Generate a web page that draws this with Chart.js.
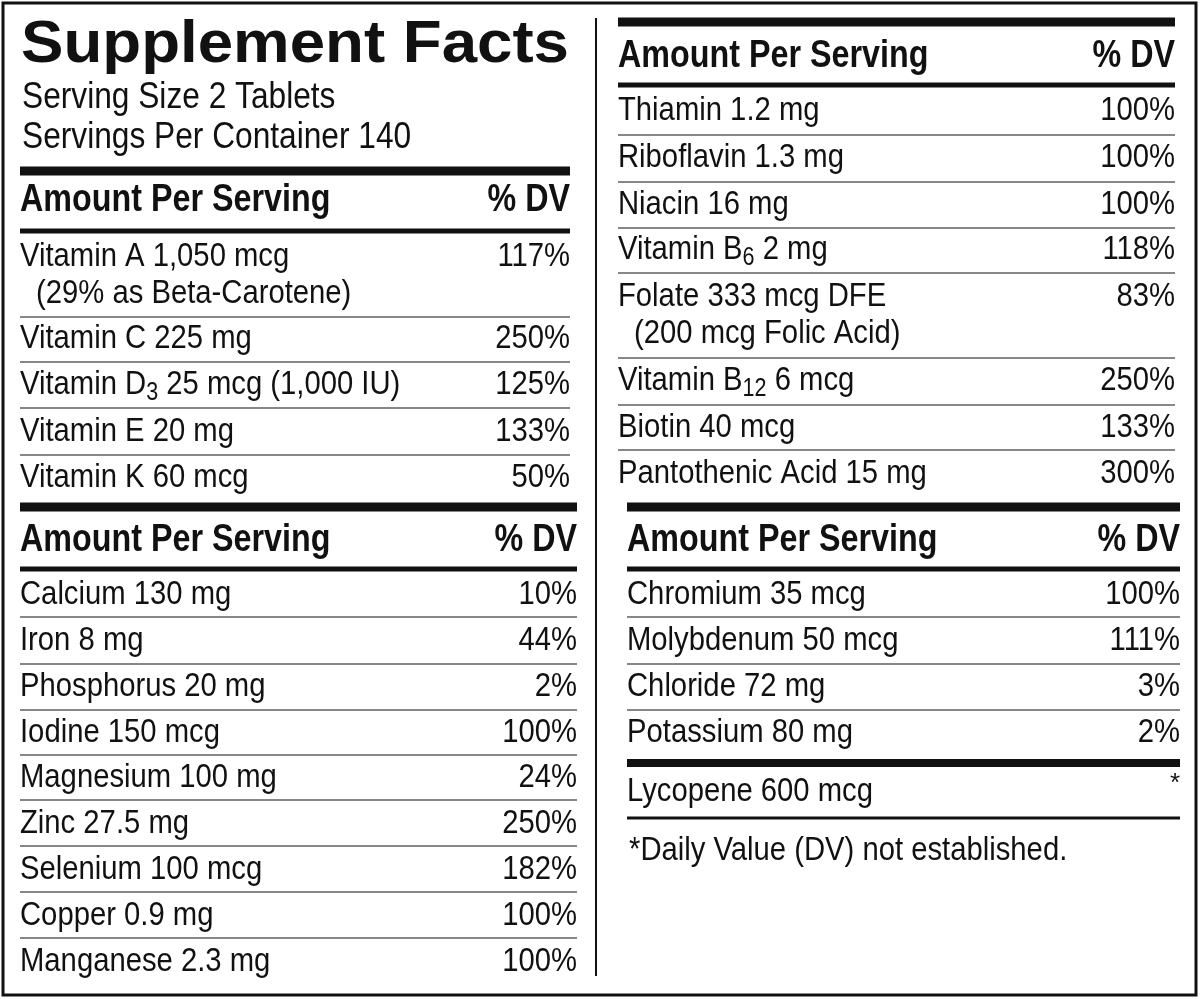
<!DOCTYPE html>
<html><head><meta charset="utf-8">
<script src="https://cdn.jsdelivr.net/npm/chart.js@4"></script>
<style>html,body{margin:0;padding:0;background:#fff}canvas{display:block}</style>
</head><body><canvas id="c" width="1200" height="999"></canvas>
<script>
const title = "Supplement Facts";
const servingInfo = ["Serving Size 2 Tablets", "Servings Per Container 140"];
const headerLabels = ["Amount Per Serving", "% DV"];
const vitaminsLeft = ["Vitamin A 1,050 mcg|(29% as Beta-Carotene)", "Vitamin C 225 mg", "Vitamin D_3 25 mcg (1,000 IU)", "Vitamin E 20 mg", "Vitamin K 60 mcg"];
const vitaminsLeftDV = ["117%", "250%", "125%", "133%", "50%"];
const mineralsLeft = ["Calcium 130 mg", "Iron 8 mg", "Phosphorus 20 mg", "Iodine 150 mcg", "Magnesium 100 mg", "Zinc 27.5 mg", "Selenium 100 mcg", "Copper 0.9 mg", "Manganese 2.3 mg"];
const mineralsLeftDV = ["10%", "44%", "2%", "100%", "24%", "250%", "182%", "100%", "100%"];
const vitaminsRight = ["Thiamin 1.2 mg", "Riboflavin 1.3 mg", "Niacin 16 mg", "Vitamin B_6 2 mg", "Folate 333 mcg DFE|(200 mcg Folic Acid)", "Vitamin B_12 6 mcg", "Biotin 40 mcg", "Pantothenic Acid 15 mg"];
const vitaminsRightDV = ["100%", "100%", "100%", "118%", "83%", "250%", "133%", "300%"];
const mineralsRight = ["Chromium 35 mcg", "Molybdenum 50 mcg", "Chloride 72 mg", "Potassium 80 mg"];
const mineralsRightDV = ["100%", "111%", "3%", "2%"];
const otherRight = ["Lycopene 600 mcg"];
const otherRightDV = ["*"];
const footnote = "*Daily Value (DV) not established.";

const FAM = "'Liberation Sans Narrow','Liberation Sans',sans-serif";

const labelPlugin = {
  id: 'label',
  afterDraw(chart) {
    const ctx = chart.ctx, X = v => chart.scales.x.getPixelForValue(v), Y = v => chart.scales.y.getPixelForValue(v);
    ctx.save();
    ctx.fillStyle = '#111'; ctx.strokeStyle = '#111';
    const bar = (x1, x2, y, h) => ctx.fillRect(X(x1), Y(y) - h / 2, X(x2) - X(x1), h);
    ctx.lineWidth = 3; ctx.strokeRect(X(3), Y(3), X(1196) - X(3), Y(995) - Y(3));
    ctx.lineWidth = 2; ctx.beginPath(); ctx.moveTo(X(596), Y(18)); ctx.lineTo(X(596), Y(976)); ctx.stroke();
    ctx.textBaseline = 'middle'; ctx.textAlign = 'left';
    // draws text with horizontal compression s
    const txt = (str, x, y, align, font, s) => {
      const parts = str.split(/_(\d+)/);
      const sub = "25px " + FAM;
      let w = 0; parts.forEach((p, i) => { ctx.font = i % 2 ? sub : font; w += ctx.measureText(p).width; });
      w *= s;
      let cx = align === 'right' ? X(x) - w : X(x);
      parts.forEach((p, i) => {
        ctx.font = i % 2 ? sub : font;
        ctx.save(); ctx.translate(cx, Y(y) + (i % 2 ? 8 : 0)); ctx.scale(s, 1);
        ctx.fillText(p, 0, 0); ctx.restore();
        cx += ctx.measureText(p).width * s;
      });
    };
    const body = "34px " + FAM, BS = 0.86, head = "bold 38px " + FAM, HS = 0.85;
    // title, stretched to its width
    const tf = "bold 60px 'Liberation Sans',sans-serif"; ctx.font = tf;
    txt(title, 21, 45, 'left', tf, (X(569) - X(21)) / ctx.measureText(title).width);
    servingInfo.forEach((s, i) => txt(s, 22, 98 + i * 40, 'left', "36px " + FAM, 0.88));
    const section = (x1, x2, topBarY, headY, subBarY, names, dvs, rowYs, lineYs) => {
      bar(x1, x2, topBarY, 9);
      txt(headerLabels[0], x1, headY, 'left', head, HS);
      txt(headerLabels[1], x2, headY, 'right', head, HS);
      bar(x1, x2, subBarY, 5);
      names.forEach((n, i) => {
        const lines = n.split('|');
        txt(lines[0], x1, rowYs[i], 'left', body, BS);
        if (lines[1]) txt(lines[1], x1 + 16, rowYs[i] + 37, 'left', body, BS);
        txt(dvs[i], x2, rowYs[i], 'right', body, BS);
      });
      ctx.lineWidth = 1.2;
      lineYs.forEach(y => { ctx.beginPath(); ctx.moveTo(X(x1), Y(y)); ctx.lineTo(X(x2), Y(y)); ctx.stroke(); });
    };
    section(20, 570, 171, 201, 231, vitaminsLeft, vitaminsLeftDV, [257, 339, 385, 432, 478], [317, 362, 408, 455]);
    section(20, 577, 507, 541, 569, mineralsLeft, mineralsLeftDV, [595, 641, 687, 733, 778, 824, 870, 916, 962], [617, 664, 710, 755, 800, 846, 892, 938]);
    section(618, 1175, 22, 57, 85, vitaminsRight, vitaminsRightDV, [111, 158, 205, 250, 297, 381, 428, 474], [135, 182, 228, 273, 358, 405, 450]);
    section(627, 1180, 507, 541, 569, mineralsRight, mineralsRightDV, [595, 641, 687, 733], [617, 664, 710]);
    bar(627, 1180, 763, 8);
    txt(otherRight[0], 627, 792, 'left', body, BS);
    txt(otherRightDV[0], 1180, 784, 'right', "26px " + FAM, 1);
    bar(627, 1180, 818, 3);
    txt(footnote, 629, 851, 'left', body, BS);
    ctx.restore();
  }
};

new Chart(document.getElementById('c'), {
  type: 'scatter',
  data: { datasets: [{ data: [], pointRadius: 0 }] },
  options: {
    responsive: false, animation: false, devicePixelRatio: 1,
    layout: { padding: 0 },
    plugins: { legend: { display: false }, tooltip: { enabled: false } },
    scales: {
      x: { type: 'linear', min: 0, max: 1200, display: false },
      y: { type: 'linear', min: 0, max: 999, reverse: true, display: false }
    }
  },
  plugins: [labelPlugin]
});
</script></body></html>
